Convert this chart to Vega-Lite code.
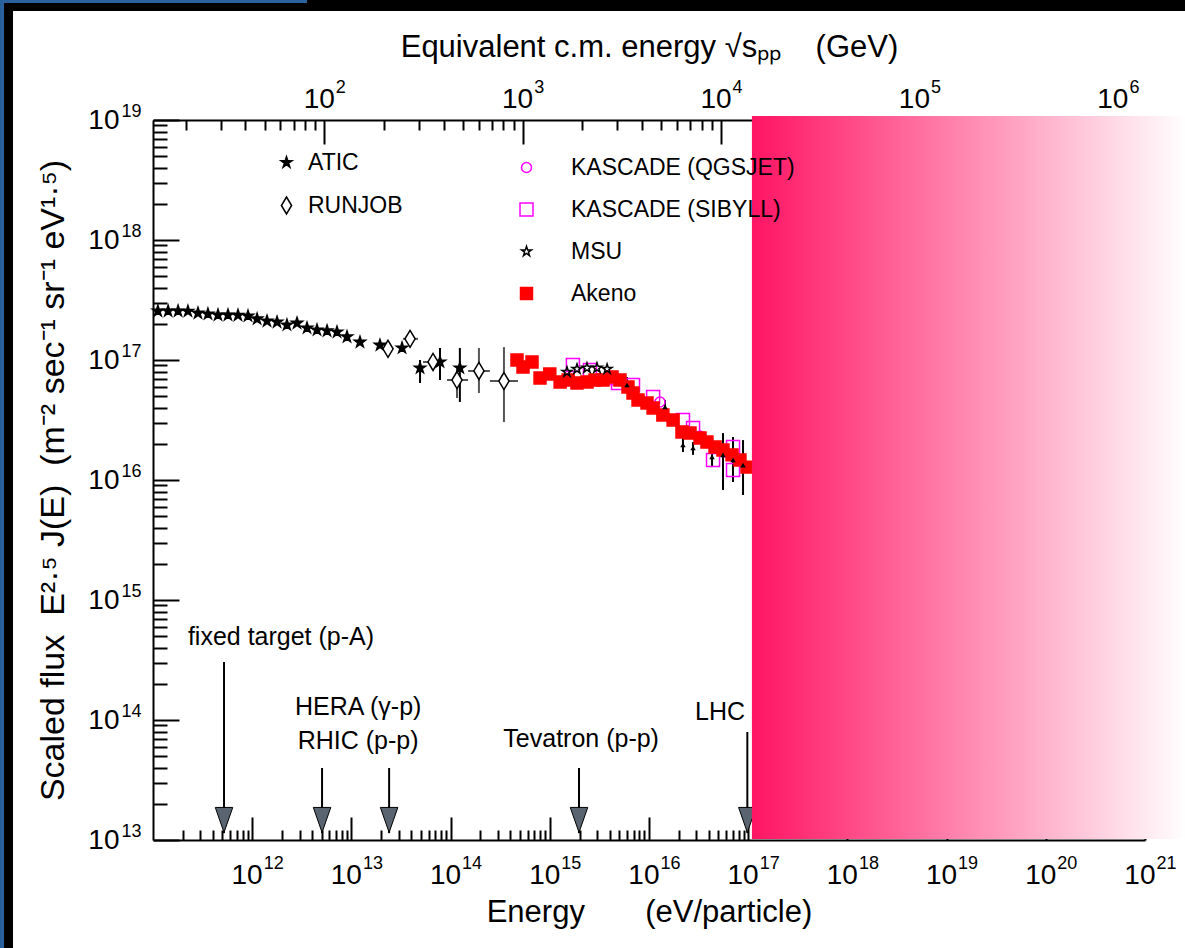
{
  "$schema": "https://vega.github.io/schema/vega-lite/v6.json",
  "width": 992,
  "height": 720,
  "autosize": {"type": "none"},
  "padding": {"left": 153, "top": 120, "right": 40, "bottom": 108},
  "background": "#ffffff",
  "config": {
    "view": {"stroke": null},
    "font": "Liberation Sans",
    "axis": {"grid": false, "labelFont": "Liberation Sans", "titleFont": "Liberation Sans", "labelColor": "#000000", "titleColor": "#000000", "titleFontWeight": "normal", "domainColor": "#000000", "tickColor": "#000000", "labelFlush": false, "labelOverlap": false},
    "legend": {"labelFont": "Liberation Sans", "labelFontSize": 23, "labelColor": "#000000", "labelLimit": 600, "symbolStrokeWidth": 1.5, "padding": 0, "direction": "vertical"}
  },
  "datasets": {
    "pts": [
      {"series": "ATIC", "E": 1.12e11, "F": 2.56e17},
      {"series": "ATIC", "E": 1.42e11, "F": 2.56e17},
      {"series": "ATIC", "E": 1.79e11, "F": 2.56e17},
      {"series": "ATIC", "E": 2.25e11, "F": 2.55e17},
      {"series": "ATIC", "E": 2.84e11, "F": 2.46e17},
      {"series": "ATIC", "E": 3.58e11, "F": 2.42e17},
      {"series": "ATIC", "E": 4.52e11, "F": 2.37e17},
      {"series": "ATIC", "E": 5.70e11, "F": 2.37e17},
      {"series": "ATIC", "E": 7.19e11, "F": 2.36e17},
      {"series": "ATIC", "E": 9.07e11, "F": 2.33e17},
      {"series": "ATIC", "E": 1.12e12, "F": 2.20e17},
      {"series": "ATIC", "E": 1.41e12, "F": 2.11e17},
      {"series": "ATIC", "E": 1.78e12, "F": 2.07e17},
      {"series": "ATIC", "E": 2.24e12, "F": 1.96e17},
      {"series": "ATIC", "E": 2.83e12, "F": 2.03e17},
      {"series": "ATIC", "E": 3.57e12, "F": 1.85e17},
      {"series": "ATIC", "E": 4.50e12, "F": 1.78e17},
      {"series": "ATIC", "E": 5.68e12, "F": 1.75e17},
      {"series": "ATIC", "E": 7.16e12, "F": 1.71e17},
      {"series": "ATIC", "E": 9.03e12, "F": 1.56e17},
      {"series": "ATIC", "E": 1.22e13, "F": 1.41e17},
      {"series": "ATIC", "E": 1.94e13, "F": 1.33e17},
      {"series": "ATIC", "E": 3.24e13, "F": 1.26e17},
      {"series": "ATIC", "E": 4.92e13, "F": 8.58e16},
      {"series": "ATIC", "E": 7.82e13, "F": 9.63e16},
      {"series": "ATIC", "E": 1.24e14, "F": 8.58e16},
      {"series": "RUNJOB", "E": 2.34e13, "F": 1.24e17},
      {"series": "RUNJOB", "E": 3.90e13, "F": 1.50e17},
      {"series": "RUNJOB", "E": 6.65e13, "F": 9.63e16},
      {"series": "RUNJOB", "E": 1.16e14, "F": 6.81e16},
      {"series": "RUNJOB", "E": 1.93e14, "F": 8.10e16},
      {"series": "RUNJOB", "E": 3.45e14, "F": 6.68e16},
      {"series": "KASCADE (QGSJET)", "E": 4.24e15, "F": 6.81e16},
      {"series": "KASCADE (QGSJET)", "E": 1.29e16, "F": 4.47e16},
      {"series": "KASCADE (QGSJET)", "E": 3.27e16, "F": 2.33e16},
      {"series": "KASCADE (QGSJET)", "E": 5.84e16, "F": 1.71e16},
      {"series": "KASCADE (SIBYLL)", "E": 1.71e15, "F": 9.09e16},
      {"series": "KASCADE (SIBYLL)", "E": 2.54e15, "F": 8.26e16},
      {"series": "KASCADE (SIBYLL)", "E": 4.87e15, "F": 6.43e16},
      {"series": "KASCADE (SIBYLL)", "E": 6.90e15, "F": 6.19e16},
      {"series": "KASCADE (SIBYLL)", "E": 1.10e16, "F": 4.92e16},
      {"series": "KASCADE (SIBYLL)", "E": 2.20e16, "F": 3.16e16},
      {"series": "KASCADE (SIBYLL)", "E": 2.78e16, "F": 2.71e16},
      {"series": "KASCADE (SIBYLL)", "E": 4.42e16, "F": 1.47e16},
      {"series": "KASCADE (SIBYLL)", "E": 7.03e16, "F": 1.88e16},
      {"series": "KASCADE (SIBYLL)", "E": 7.03e16, "F": 1.21e16},
      {"series": "Akeno", "E": 4.67e14, "F": 1.00e17},
      {"series": "Akeno", "E": 5.37e14, "F": 8.75e16},
      {"series": "Akeno", "E": 6.62e14, "F": 9.63e16},
      {"series": "Akeno", "E": 7.97e14, "F": 7.08e16},
      {"series": "Akeno", "E": 1.00e15, "F": 7.64e16},
      {"series": "Akeno", "E": 1.27e15, "F": 6.56e16},
      {"series": "Akeno", "E": 1.53e15, "F": 6.81e16},
      {"series": "Akeno", "E": 1.88e15, "F": 6.43e16},
      {"series": "Akeno", "E": 2.37e15, "F": 6.56e16},
      {"series": "Akeno", "E": 2.86e15, "F": 6.81e16},
      {"series": "Akeno", "E": 3.44e15, "F": 6.81e16},
      {"series": "Akeno", "E": 4.24e15, "F": 7.22e16},
      {"series": "Akeno", "E": 5.10e15, "F": 6.81e16},
      {"series": "Akeno", "E": 6.14e15, "F": 5.96e16},
      {"series": "Akeno", "E": 6.90e15, "F": 5.31e16},
      {"series": "Akeno", "E": 7.75e15, "F": 4.64e16},
      {"series": "Akeno", "E": 9.55e15, "F": 4.38e16},
      {"series": "Akeno", "E": 1.10e16, "F": 3.98e16},
      {"series": "Akeno", "E": 1.38e16, "F": 3.48e16},
      {"series": "Akeno", "E": 1.75e16, "F": 3.16e16},
      {"series": "Akeno", "E": 2.15e16, "F": 2.51e16},
      {"series": "Akeno", "E": 2.59e16, "F": 2.46e16},
      {"series": "Akeno", "E": 3.27e16, "F": 2.24e16},
      {"series": "Akeno", "E": 3.84e16, "F": 2.07e16},
      {"series": "Akeno", "E": 4.63e16, "F": 1.88e16},
      {"series": "Akeno", "E": 5.57e16, "F": 1.78e16},
      {"series": "Akeno", "E": 6.87e16, "F": 1.62e16},
      {"series": "Akeno", "E": 8.26e16, "F": 1.47e16},
      {"series": "Akeno", "E": 9.73e16, "F": 1.28e16},
      {"series": "MSU", "E": 1.49e15, "F": 7.94e16},
      {"series": "MSU", "E": 1.88e15, "F": 8.41e16},
      {"series": "MSU", "E": 2.37e15, "F": 8.58e16},
      {"series": "MSU", "E": 2.99e15, "F": 8.58e16},
      {"series": "MSU", "E": 3.78e15, "F": 8.41e16},
      {"series": "other", "E": 6.0e15, "F": 6.19e16},
      {"series": "other", "E": 1.45e16, "F": 4.06e16},
      {"series": "other", "E": 2.20e16, "F": 1.96e16},
      {"series": "other", "E": 2.78e16, "F": 1.85e16},
      {"series": "other", "E": 4.32e16, "F": 1.56e16},
      {"series": "other", "E": 5.57e16, "F": 1.62e16},
      {"series": "other", "E": 7.03e16, "F": 1.47e16},
      {"series": "other", "E": 8.87e16, "F": 1.33e16}
    ],
    "yerr": [
      {"series": "ATIC", "E": 4.92e13, "lo": 6.43e16, "hi": 1.0e17},
      {"series": "ATIC", "E": 7.82e13, "lo": 6.81e16, "hi": 1.26e17},
      {"series": "ATIC", "E": 1.24e14, "lo": 4.47e16, "hi": 1.26e17},
      {"series": "RUNJOB", "E": 1.16e14, "lo": 4.82e16, "hi": 8.75e16},
      {"series": "RUNJOB", "E": 1.93e14, "lo": 5.31e16, "hi": 1.26e17},
      {"series": "RUNJOB", "E": 3.45e14, "lo": 3.04e16, "hi": 1.28e17},
      {"series": "other", "E": 6.0e15, "lo": 5.31e16, "hi": 7.22e16},
      {"series": "other", "E": 1.45e16, "lo": 3.48e16, "hi": 4.64e16},
      {"series": "other", "E": 2.20e16, "lo": 1.71e16, "hi": 2.28e16},
      {"series": "other", "E": 2.78e16, "lo": 1.62e16, "hi": 2.07e16},
      {"series": "other", "E": 4.32e16, "lo": 1.28e16, "hi": 1.88e16},
      {"series": "other", "E": 5.57e16, "lo": 8.26e15, "hi": 2.46e16},
      {"series": "other", "E": 7.03e16, "lo": 9.62e15, "hi": 2.28e16},
      {"series": "other", "E": 8.87e16, "lo": 7.5e15, "hi": 2.15e16}
    ],
    "xerr": [
      {"series": "RUNJOB", "F": 1.50e17, "Elo": 3.31e13, "Ehi": 4.69e13},
      {"series": "RUNJOB", "F": 9.63e16, "Elo": 5.27e13, "Ehi": 8.38e13},
      {"series": "RUNJOB", "F": 6.81e16, "Elo": 9.2e13, "Ehi": 1.50e14},
      {"series": "RUNJOB", "F": 8.10e16, "Elo": 1.50e14, "Ehi": 2.49e14},
      {"series": "RUNJOB", "F": 6.68e16, "Elo": 2.49e14, "Ehi": 4.78e14}
    ],
    "accel": [
      {"name": "fixed target", "E": 5.2e11, "top": 3.04e14},
      {"name": "HERA", "E": 5.06e12, "top": 3.98e13},
      {"name": "RHIC", "E": 2.4e13, "top": 3.98e13},
      {"name": "Tevatron", "E": 1.97e15, "top": 3.98e13},
      {"name": "LHC", "E": 9.8e16, "top": 7.94e13}
    ],
    "notes": [
      {"label": "fixed target (p-A)", "E": 1.95e12, "F": 4.22e14},
      {"label": "HERA (γ-p)", "E": 1.17e13, "F": 1.10e14},
      {"label": "RHIC (p-p)", "E": 1.17e13, "F": 5.73e13},
      {"label": "Tevatron (p-p)", "E": 2.07e15, "F": 5.96e13},
      {"label": "LHC", "E": 5.2e16, "F": 1.0e14}
    ]
  },
  "resolve": {
    "scale": {"shape": "independent", "fill": "independent", "stroke": "independent"},
    "axis": {"x": "independent", "y": "independent"}
  },
  "layer": [
    {
      "data": {"values": [{"part": "frame"}]},
      "mark": {"type": "rect", "fill": "#000000"},
      "encoding": {
        "x": {"datum": 2.87e9, "type": "quantitative", "axis": null},
        "x2": {"datum": 2.6e21},
        "y": {"datum": 1e20, "type": "quantitative", "axis": null},
        "y2": {"datum": 8.1e19}
      }
    },
    {
      "data": {"values": [{"part": "frame"}]},
      "mark": {"type": "rect", "fill": "#000000"},
      "encoding": {
        "x": {"datum": 2.87e9, "type": "quantitative", "axis": null},
        "x2": {"datum": 3.88e9},
        "y": {"datum": 1e20, "type": "quantitative", "axis": null},
        "y2": {"datum": 1.26e12}
      }
    },
    {
      "data": {"values": [{"part": "frame"}]},
      "mark": {"type": "rect", "fill": "#2a62a0"},
      "encoding": {
        "x": {"datum": 2.87e9, "type": "quantitative", "axis": null},
        "x2": {"datum": 3.15e9},
        "y": {"datum": 1e20, "type": "quantitative", "axis": null},
        "y2": {"datum": 1.26e12}
      }
    },
    {
      "data": {"values": [{"part": "frame"}]},
      "mark": {"type": "rect", "fill": "#2a62a0"},
      "encoding": {
        "x": {"datum": 2.87e9, "type": "quantitative", "axis": null},
        "x2": {"datum": 3.57e12},
        "y": {"datum": 1e20, "type": "quantitative", "axis": null},
        "y2": {"datum": 9.44e19}
      }
    },
    {
      "data": {"name": "pts"},
      "mark": {"type": "point", "opacity": 0},
      "encoding": {
        "x": {"field": "E", "type": "quantitative", "scale": {"type": "log", "domain": [1e11, 1e21], "nice": false},
          "axis": {"orient": "bottom", "values": [1e12, 1e13, 1e14, 1e15, 1e16, 1e17, 1e18, 1e19, 1e20, 1e21], "ticks": false, "domain": false, "labelFontSize": 28, "labelPadding": 21, "labelAlign": "right", "labelOffset": 10,
            "labelExpr": "'10'",
            "title": "Energy\u00a0\u00a0\u00a0\u00a0\u00a0\u00a0\u00a0(eV/particle)", "titleFontSize": 31, "titlePadding": 8}},
        "y": {"field": "F", "type": "quantitative", "scale": {"type": "log", "domain": [1e13, 1e19], "nice": false},
          "axis": {"orient": "left", "values": [1e13, 1e14, 1e15, 1e16, 1e17, 1e18, 1e19], "ticks": false, "domain": false, "labelFontSize": 28, "labelPadding": 34, "labelAlign": "right", "labelBaseline": "middle",
            "labelExpr": "'10'",
            "title": "Scaled flux\u00a0\u00a0E²·⁵ J(E)\u00a0\u00a0(m⁻² sec⁻¹ sr⁻¹ eV¹·⁵)", "titleFontSize": 34, "titlePadding": 17}}
      }
    },
    {
      "data": {"name": "pts"},
      "mark": {"type": "point", "opacity": 0},
      "encoding": {
        "x": {"field": "E", "type": "quantitative",
          "axis": {"orient": "bottom", "values": [1e12, 1e13, 1e14, 1e15, 1e16, 1e17, 1e18, 1e19, 1e20, 1e21], "ticks": false, "domain": false, "labelFontSize": 18, "labelPadding": 14, "labelAlign": "left", "labelOffset": 11,
            "labelExpr": "round(log(datum.value)/LN10) + ''", "title": null}},
        "y": {"field": "F", "type": "quantitative",
          "axis": {"orient": "left", "values": [1e13, 1e14, 1e15, 1e16, 1e17, 1e18, 1e19], "ticks": false, "domain": false, "labelFontSize": 18, "labelPadding": 32, "labelAlign": "left", "labelBaseline": "middle", "labelOffset": -9,
            "labelExpr": "round(log(datum.value)/LN10) + ''", "title": null}}
      }
    },
    {
      "data": {"name": "pts"},
      "mark": {"type": "point", "opacity": 0},
      "encoding": {
        "x": {"field": "E", "type": "quantitative",
          "axis": {"orient": "bottom", "values": [1e12, 1e13, 1e14, 1e15, 1e16, 1e17, 1e18, 1e19, 1e20, 1e21], "labels": false, "domain": true, "domainWidth": 2, "ticks": true, "tickSize": -23, "tickWidth": 2, "title": null}},
        "y": {"field": "F", "type": "quantitative",
          "axis": {"orient": "left", "values": [1e13, 1e14, 1e15, 1e16, 1e17, 1e18, 1e19], "labels": false, "domain": true, "domainWidth": 2, "ticks": true, "tickSize": -26, "tickWidth": 2, "title": null}}
      }
    },
    {
      "data": {"name": "pts"},
      "mark": {"type": "point", "opacity": 0},
      "encoding": {
        "x": {"field": "E", "type": "quantitative",
          "axis": {"orient": "bottom", "values": [2e11, 3e11, 4e11, 5e11, 6e11, 7e11, 8e11, 9e11, 2e12, 3e12, 4e12, 5e12, 6e12, 7e12, 8e12, 9e12, 2e13, 3e13, 4e13, 5e13, 6e13, 7e13, 8e13, 9e13, 2e14, 3e14, 4e14, 5e14, 6e14, 7e14, 8e14, 9e14, 2e15, 3e15, 4e15, 5e15, 6e15, 7e15, 8e15, 9e15, 2e16, 3e16, 4e16, 5e16, 6e16, 7e16, 8e16, 9e16], "labels": false, "domain": false, "ticks": true, "tickSize": -10, "tickWidth": 2, "title": null}},
        "y": {"field": "F", "type": "quantitative",
          "axis": {"orient": "left", "values": [2e13, 3e13, 4e13, 5e13, 6e13, 7e13, 8e13, 9e13, 2e14, 3e14, 4e14, 5e14, 6e14, 7e14, 8e14, 9e14, 2e15, 3e15, 4e15, 5e15, 6e15, 7e15, 8e15, 9e15, 2e16, 3e16, 4e16, 5e16, 6e16, 7e16, 8e16, 9e16, 2e17, 3e17, 4e17, 5e17, 6e17, 7e17, 8e17, 9e17, 2e18, 3e18, 4e18, 5e18, 6e18, 7e18, 8e18, 9e18], "labels": false, "domain": false, "ticks": true, "tickSize": -14, "tickWidth": 2, "title": null}}
      }
    },
    {
      "data": {"name": "pts"},
      "mark": {"type": "point", "opacity": 0},
      "encoding": {
        "x": {"field": "E", "type": "quantitative",
          "axis": {"orient": "top", "values": [5.329e12, 5.329e14, 5.329e16, 5.329e18, 5.329e20], "ticks": false, "domain": false, "labelFontSize": 28, "labelPadding": 7, "labelAlign": "right", "labelOffset": 10,
            "labelExpr": "'10'",
            "title": "Equivalent c.m. energy √sₚₚ\u00a0\u00a0\u00a0\u00a0(GeV)", "titleFontSize": 31, "titlePadding": 22}}
      }
    },
    {
      "data": {"name": "pts"},
      "mark": {"type": "point", "opacity": 0},
      "encoding": {
        "x": {"field": "E", "type": "quantitative",
          "axis": {"orient": "top", "values": [5.329e12, 5.329e14, 5.329e16, 5.329e18, 5.329e20], "ticks": false, "domain": false, "labelFontSize": 18, "labelPadding": 24, "labelAlign": "left", "labelOffset": 11,
            "labelExpr": "round(log(datum.value/5.329e8)/LN10/2) + ''", "title": null}}
      }
    },
    {
      "data": {"name": "pts"},
      "mark": {"type": "point", "opacity": 0},
      "encoding": {
        "x": {"field": "E", "type": "quantitative",
          "axis": {"orient": "top", "values": [5.329e12, 5.329e14, 5.329e16, 5.329e18, 5.329e20], "labels": false, "domain": true, "domainWidth": 2, "ticks": true, "tickSize": -24, "tickWidth": 2, "title": null}}
      }
    },
    {
      "data": {"name": "pts"},
      "mark": {"type": "point", "opacity": 0},
      "encoding": {
        "x": {"field": "E", "type": "quantitative",
          "axis": {"orient": "top", "values": [2.1316e11, 4.796e11, 8.526e11, 1.332e12, 1.918e12, 2.611e12, 3.411e12, 4.316e12, 2.1316e13, 4.796e13, 8.526e13, 1.332e14, 1.918e14, 2.611e14, 3.411e14, 4.316e14, 2.1316e15, 4.796e15, 8.526e15, 1.332e16, 1.918e16, 2.611e16, 3.411e16, 4.316e16], "labels": false, "domain": false, "ticks": true, "tickSize": -10, "tickWidth": 2, "title": null}}
      }
    },
    {
      "data": {"name": "yerr"},
      "transform": [{"filter": "datum.series != 'RUNJOB'"}],
      "mark": {"type": "rule", "stroke": "#000000", "strokeWidth": 2},
      "encoding": {
        "x": {"field": "E", "type": "quantitative", "axis": null},
        "y": {"field": "lo", "type": "quantitative", "axis": null},
        "y2": {"field": "hi"}
      }
    },
    {
      "data": {"name": "yerr"},
      "transform": [{"filter": "datum.series == 'RUNJOB'"}],
      "mark": {"type": "rule", "stroke": "#555555", "strokeWidth": 2},
      "encoding": {
        "x": {"field": "E", "type": "quantitative", "axis": null},
        "y": {"field": "lo", "type": "quantitative", "axis": null},
        "y2": {"field": "hi"}
      }
    },
    {
      "data": {"name": "xerr"},
      "mark": {"type": "rule", "stroke": "#555555", "strokeWidth": 2},
      "encoding": {
        "x": {"field": "Elo", "type": "quantitative", "axis": null},
        "x2": {"field": "Ehi"},
        "y": {"field": "F", "type": "quantitative", "axis": null}
      }
    },
    {
      "data": {"name": "pts"},
      "transform": [{"filter": {"field": "series", "oneOf": ["ATIC", "RUNJOB"]}}],
      "mark": {"type": "point", "size": 289, "strokeWidth": 1.5, "opacity": 1},
      "encoding": {
        "x": {"field": "E", "type": "quantitative", "axis": null},
        "y": {"field": "F", "type": "quantitative", "axis": null},
        "shape": {"field": "series", "type": "nominal",
          "scale": {"domain": ["ATIC", "RUNJOB"], "range": ["M0,-0.68L0.1527,-0.2101L0.6467,-0.2101L0.247,0.0802L0.3997,0.5501L0,0.2598L-0.3997,0.5501L-0.247,0.0802L-0.6467,-0.2101L-0.1527,-0.2101Z", "M0,-1L0.6,0L0,1L-0.6,0Z"]},
          "legend": {"orient": "none", "legendX": 122, "legendY": 31, "title": null, "rowPadding": 19, "labelOffset": 10, "symbolSize": 289}},
        "fill": {"field": "series", "type": "nominal",
          "scale": {"domain": ["ATIC", "RUNJOB"], "range": ["#000000", "#ffffff"]},
          "legend": {"orient": "none", "legendX": 122, "legendY": 31, "title": null, "rowPadding": 19, "labelOffset": 10, "symbolSize": 289}},
        "stroke": {"field": "series", "type": "nominal",
          "scale": {"domain": ["ATIC", "RUNJOB"], "range": ["#000000", "#000000"]},
          "legend": {"orient": "none", "legendX": 122, "legendY": 31, "title": null, "rowPadding": 19, "labelOffset": 10, "symbolSize": 289}}
      }
    },
    {
      "data": {"name": "pts"},
      "transform": [{"filter": {"field": "series", "oneOf": ["KASCADE (QGSJET)", "KASCADE (SIBYLL)", "MSU", "Akeno"]}}],
      "mark": {"type": "point", "size": 169, "strokeWidth": 1.5, "opacity": 1},
      "encoding": {
        "x": {"field": "E", "type": "quantitative", "axis": null},
        "y": {"field": "F", "type": "quantitative", "axis": null},
        "shape": {"field": "series", "type": "nominal",
          "scale": {"domain": ["KASCADE (QGSJET)", "KASCADE (SIBYLL)", "MSU", "Akeno"], "range": ["M0.77,0A0.77,0.77,0,1,1,-0.77,0A0.77,0.77,0,1,1,0.77,0Z", "square", "M0,-0.8L0.1796,-0.2472L0.7608,-0.2472L0.2906,0.0944L0.4702,0.6472L0,0.3056L-0.4702,0.6472L-0.2906,0.0944L-0.7608,-0.2472L-0.1796,-0.2472Z", "M-0.92,-0.92L0.92,-0.92L0.92,0.92L-0.92,0.92Z"]},
          "legend": {"orient": "none", "legendX": 362, "legendY": 36, "title": null, "rowPadding": 18, "labelOffset": 33, "symbolSize": 169}},
        "fill": {"field": "series", "type": "nominal",
          "scale": {"domain": ["KASCADE (QGSJET)", "KASCADE (SIBYLL)", "MSU", "Akeno"], "range": ["transparent", "transparent", "transparent", "#ff0000"]},
          "legend": {"orient": "none", "legendX": 362, "legendY": 36, "title": null, "rowPadding": 18, "labelOffset": 33, "symbolSize": 169}},
        "stroke": {"field": "series", "type": "nominal",
          "scale": {"domain": ["KASCADE (QGSJET)", "KASCADE (SIBYLL)", "MSU", "Akeno"], "range": ["#ff00ff", "#ff00ff", "#000000", "#ff0000"]},
          "legend": {"orient": "none", "legendX": 362, "legendY": 36, "title": null, "rowPadding": 18, "labelOffset": 33, "symbolSize": 169}}
      }
    },
    {
      "data": {"name": "pts"},
      "transform": [{"filter": "datum.series == 'other'"}],
      "mark": {"type": "point", "shape": "triangle-up", "size": 30, "filled": true, "color": "#000000", "opacity": 1},
      "encoding": {
        "x": {"field": "E", "type": "quantitative", "axis": null},
        "y": {"field": "F", "type": "quantitative", "axis": null}
      }
    },
    {
      "data": {"name": "accel"},
      "mark": {"type": "rule", "stroke": "#000000", "strokeWidth": 2},
      "encoding": {
        "x": {"field": "E", "type": "quantitative", "axis": null},
        "y": {"field": "top", "type": "quantitative", "axis": null},
        "y2": {"datum": 1.14e13}
      }
    },
    {
      "data": {"name": "accel"},
      "mark": {"type": "point", "shape": "M-0.7,-1L0.7,-1L0,1Z", "size": 625, "filled": true, "fill": "#5a6470", "stroke": "#000000", "strokeWidth": 1, "opacity": 1},
      "encoding": {
        "x": {"field": "E", "type": "quantitative", "axis": null},
        "y": {"datum": 1.47e13, "type": "quantitative", "axis": null}
      }
    },
    {
      "data": {"name": "notes"},
      "mark": {"type": "text", "font": "Liberation Sans", "fontSize": 25, "align": "center", "baseline": "alphabetic", "color": "#000000"},
      "encoding": {
        "x": {"field": "E", "type": "quantitative", "axis": null},
        "y": {"field": "F", "type": "quantitative", "axis": null},
        "text": {"field": "label"}
      }
    },
    {
      "data": {"values": [{"part": "overlay"}]},
      "mark": {"type": "rect", "fill": {"gradient": "linear", "x1": 0, "y1": 0, "x2": 1, "y2": 0, "stops": [{"offset": 0, "color": "#ff1464"}, {"offset": 1, "color": "#ffffff"}]}},
      "encoding": {
        "x": {"datum": 1.09e17, "type": "quantitative", "axis": null},
        "x2": {"datum": 2.6e21},
        "y": {"datum": 1.08e19, "type": "quantitative", "axis": null},
        "y2": {"datum": 1.02e13}
      }
    }
  ]
}
